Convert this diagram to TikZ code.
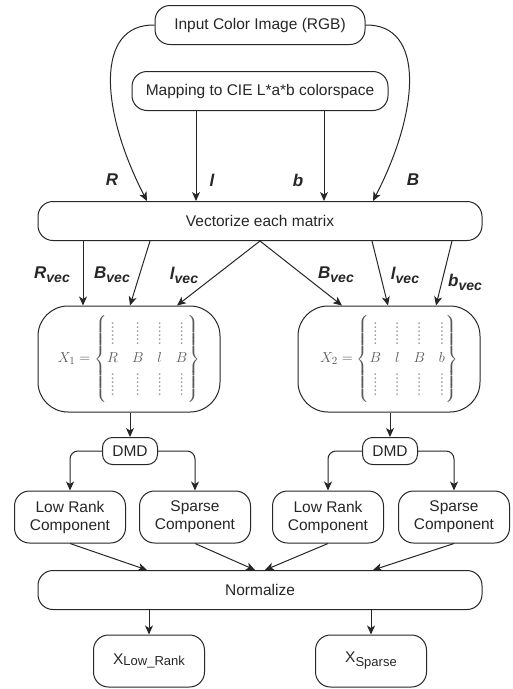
\documentclass[tikz,border=0pt]{standalone}
\usepackage{amsmath}
\usepackage{fontspec}
\setmainfont{Liberation Sans}
\usetikzlibrary{arrows.meta}
\colorlet{ink}{black!85}
\colorlet{matink}{black!65}
\newcommand\vsub[1]{\raisebox{-4pt}{\fontsize{14}{16}\selectfont #1}}
\newcommand\dd{\textcolor{black!40}{\vdots}}
\newcommand\dotrow{\dd&\dd&\dd&\dd}
\begin{document}
\begin{tikzpicture}[
  x = 1pt, y = -1pt,
  every node/.style = {text = ink},
  box/.style = {draw = ink, line width = 1pt, rounded corners = 15pt, align = center,
                inner sep = 0pt, font = \fontsize{15.5}{18}\selectfont},
  bar/.style = {box, minimum height = 39pt},
  comp/.style = {box, minimum width = 111pt, minimum height = 52pt},
  mat/.style = {box, rounded corners = 30pt, minimum width = 182pt, minimum height = 106pt,
                text = matink, font = \fontsize{15}{18}\selectfont},
  dmd/.style = {box, rounded corners = 10pt, minimum width = 55pt, minimum height = 27pt},
  lbl/.style = {font = \fontsize{17}{20}\selectfont\bfseries\itshape},
  arr/.style = {draw = ink, line width = 1pt, -{Stealth[length = 9pt, width = 8pt, inset = 2.5pt]}}
  ]
  \useasboundingbox (0,0) rectangle (513,689);

  %input and colour spaces
  \node[bar, minimum width = 210pt] (input) at (260,25) {Input Color Image (RGB)};
  \node[bar, minimum width = 256pt] (lab) at (260,91) {Mapping to CIE L*a*b colorspace};
  \node[bar, minimum width = 444pt] (vec) at (260,221) {Vectorize each matrix};

  \coordinate (cR) at (147,0);
  \coordinate (cl) at (196,0);
  \coordinate (cb) at (324,0);
  \coordinate (cB) at (373,0);

  \draw[arr] (input.west) .. controls (95,24) and (100,110) .. (vec.north -| cR);
  \draw[arr] (input.east) .. controls (425,24) and (420,110) .. (vec.north -| cB);
  \draw[arr] (lab.south -| cl) -- (vec.north -| cl);
  \draw[arr] (lab.south -| cb) -- (vec.north -| cb);

  \node[lbl] (lR) at (112,180) {R};
  \node[lbl] (ll) at (212,180) {l};
  \node[lbl] (lb) at (298,180) {b};
  \node[lbl] (lB) at (413,180) {B};

  %the two data matrices
  \node[mat] (x1) at (129,359) {\arraycolsep=7pt
    $X_1=\left\{\begin{matrix}\dotrow\\[-9pt]\dotrow\\ R&B&l&B\\ \dotrow\\[-9pt]\dotrow\end{matrix}\right\}$};
  \node[mat] (x2) at (389,359) {\arraycolsep=7pt
    $X_2=\left\{\begin{matrix}\dotrow\\[-9pt]\dotrow\\ B&l&B&b\\ \dotrow\\[-9pt]\dotrow\end{matrix}\right\}$};

  \coordinate (s1) at (83,0);
  \coordinate (s2) at (150,0);
  \coordinate (s3) at (372,0);
  \coordinate (s4) at (452,0);
  \coordinate (t1) at (130,0);
  \coordinate (t2) at (177,0);
  \coordinate (t3) at (342,0);
  \coordinate (t4) at (388,0);
  \coordinate (t5) at (436,0);

  \draw[arr] (vec.south -| s1) -- (x1.north -| s1);
  \draw[arr] (vec.south -| s2) -- (x1.north -| t1);
  \draw[arr] (vec.south) -- (x1.north -| t2);
  \draw[arr] (vec.south) -- (x2.north -| t3);
  \draw[arr] (vec.south -| s3) -- (x2.north -| t4);
  \draw[arr] (vec.south -| s4) -- (x2.north -| t5);

  \node[lbl] (lRv) at (52,275) {R\vsub{vec}};
  \node[lbl] (lBv) at (112,275) {B\vsub{vec}};
  \node[lbl] (llv) at (184,275) {l\vsub{vec}};
  \node[lbl] (lBw) at (336,275) {B\vsub{vec}};
  \node[lbl] (llw) at (405,275) {l\vsub{vec}};
  \node[lbl] (lbw) at (465,282) {b\vsub{vec}};

  %decomposition
  \node[dmd] (dmd1) at (130,451) {DMD};
  \node[dmd] (dmd2) at (390,451) {DMD};
  \draw[arr] (x1.south -| dmd1) -- (dmd1.north);
  \draw[arr] (x2.south -| dmd2) -- (dmd2.north);

  \node[comp] (low1) at (70,517) {Low Rank\\Component};
  \node[comp] (sp1) at (195,517) {Sparse\\Component};
  \node[comp] (low2) at (328,517) {Low Rank\\Component};
  \node[comp] (sp2) at (454,517) {Sparse\\Component};

  \draw[arr, rounded corners = 8pt] (dmd1.west) -| (low1.north);
  \draw[arr, rounded corners = 8pt] (dmd1.east) -| (sp1.north);
  \draw[arr, rounded corners = 8pt] (dmd2.west) -| (low2.north);
  \draw[arr, rounded corners = 8pt] (dmd2.east) -| (sp2.north);

  %output
  \node[bar, minimum width = 444pt] (norm) at (260,590) {Normalize};
  \coordinate (n1) at (147,0);
  \coordinate (n2) at (255,0);
  \coordinate (n3) at (265,0);
  \coordinate (n4) at (373,0);
  \draw[arr] (low1.south) -- (norm.north -| n1);
  \draw[arr] (sp1.south) -- (norm.north -| n2);
  \draw[arr] (low2.south) -- (norm.north -| n3);
  \draw[arr] (sp2.south) -- (norm.north -| n4);

  \node[comp] (xlow) at (149,661) {X\raisebox{-1pt}{\fontsize{13}{15}\selectfont Low\_Rank}};
  \node[comp] (xsp) at (371,661) {X\raisebox{-4pt}{\fontsize{13}{15}\selectfont Sparse}};
  \draw[arr] (norm.south -| xlow) -- (xlow.north);
  \draw[arr] (norm.south -| xsp) -- (xsp.north);
\end{tikzpicture}
\end{document}
